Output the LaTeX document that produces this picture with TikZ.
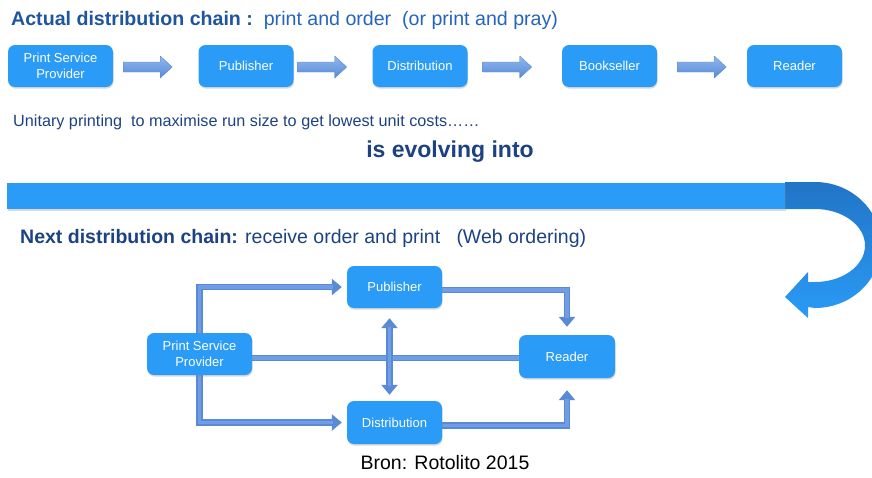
\documentclass[tikz,border=0pt]{standalone}
\usepackage{fontspec}
\setmainfont{Liberation Sans}
\usetikzlibrary{arrows.meta,shadows,calc}

\definecolor{boxblue}{RGB}{42,155,246}
\definecolor{headblue}{RGB}{30,84,160}
\definecolor{midblue}{RGB}{36,100,190}
\definecolor{navy}{RGB}{28,66,130}
\definecolor{pipeedge}{RGB}{90,138,214}
\definecolor{pipefill}{RGB}{112,158,230}
\definecolor{bandblue}{RGB}{42,155,246}
\definecolor{banddark}{RGB}{34,116,198}
\definecolor{arrowtop}{RGB}{146,184,238}
\definecolor{arrowbot}{RGB}{86,138,214}

\pgfdeclarelayer{pipes}
\pgfsetlayers{pipes,main}

% flat block arrow of the first chain: start point, total length
\newcommand\chainarrow[2]{%
  \shade[top color=arrowtop, bottom color=arrowbot, draw=arrowbot, line width=0.4pt]
    (#1) ++(0,5) -- ++({#2-12},0) -- ++(0,6) -- ++(12,-11) -- ++(-12,-11)
    -- ++(0,6) -- ++({-(#2-12)},0) -- cycle;}

\begin{document}
\begin{tikzpicture}[x=1pt,y=1pt,
  box/.style={fill=boxblue, rounded corners=7pt, text=white, align=center,
    font=\fontsize{13}{15.5}\selectfont, inner sep=2pt,
    drop shadow={opacity=0.3, shadow xshift=0.6pt, shadow yshift=-1.6pt}},
  pipe/.style={line width=6.5pt, draw=pipeedge},
  pipecore/.style={line width=3.5pt, draw=pipefill},
  tip/.tip={Triangle[width=16pt,length=10pt]},
]
\useasboundingbox (0,0) rectangle (872,-477);
\clip (0,0) rectangle (872,-477);

% ---- headings
\node[anchor=base west, inner sep=0, font=\fontsize{19.6}{22}\selectfont] (title1) at (11,-25)
  {\textcolor{headblue}{\bfseries Actual distribution chain :}\textcolor{midblue}{\ \ print and order\ \ (or print and pray)}};

% ---- first chain
\node[box, minimum width=105pt, minimum height=42pt] (psp1) at (60.5,-66) {Print Service\\Provider};
\node[box, minimum width=95pt, minimum height=42pt] (pub1) at (246,-66) {Publisher};
\node[box, minimum width=95pt, minimum height=42pt] (dist1) at (420,-66) {Distribution};
\node[box, minimum width=95pt, minimum height=42pt] (book1) at (609.5,-66) {Bookseller};
\node[box, minimum width=95pt, minimum height=42pt] (read1) at (794.5,-66) {Reader};

\chainarrow{$(psp1.east)+(10,-1)$}{49}
\chainarrow{$(pub1.east)+(4,-1)$}{49}
\chainarrow{$(dist1.east)+(15,-1)$}{49}
\chainarrow{$(book1.east)+(20,-1)$}{49}

\node[anchor=base west, inner sep=0, text=navy, font=\fontsize{16.2}{18}\selectfont] (unit) at (13,-126)
  {Unitary printing\ \ to maximise run size to get lowest unit costs\dots\dots};
\node[anchor=base, inner sep=0, text=navy, font=\fontsize{23}{26}\selectfont\bfseries] (evolve) at (450,-157)
  {is evolving into};

% ---- turning band
\shade[top color=banddark, bottom color=bandblue]
  (785,-182) -- (815,-182) arc[start angle=90, end angle=-90, x radius=66, y radius=63]
  -- (808,-307) -- (808,-318) -- (785,-297) -- (808,-272) -- (808,-282) -- (815,-282)
  arc[start angle=-90, end angle=90, x radius=50, y radius=36.5] -- (785,-209) -- cycle;
\fill[bandblue, drop shadow={opacity=0.3, shadow xshift=0.6pt, shadow yshift=-2pt}]
  (7,-183) rectangle (785,-209);

\node[anchor=base west, inner sep=0, text=navy, font=\fontsize{19.5}{22}\selectfont] (title2) at (20,-243)
  {\bfseries Next distribution chain:\mdseries{} receive order and print\ \ \ (Web ordering)};

% ---- second chain
\node[box, minimum width=105pt, minimum height=42pt] (psp2) at (199.5,-354) {Print Service\\Provider};
\node[box, minimum width=95pt, minimum height=42pt] (pub2) at (394.5,-287) {Publisher};
\node[box, minimum width=95pt, minimum height=43pt] (dist2) at (394.5,-422.5) {Distribution};
\node[box, minimum width=96pt, minimum height=43pt] (read2) at (567,-356.5) {Reader};

\begin{pgfonlayer}{pipes}
  % provider to publisher and distribution
  \draw[pipe, -tip, shorten >=5pt] (psp2.north) |- (pub2.west);
  \draw[pipecore, shorten >=14pt] (psp2.north) |- (pub2.west);
  \draw[pipe, -tip, shorten >=5pt] (psp2.south) |- (dist2.west);
  \draw[pipecore, shorten >=14pt] (psp2.south) |- (dist2.west);
  % provider straight to reader
  \draw[pipe] ([yshift=-4pt]psp2.east) -- ([yshift=-4pt]psp2.east -| read2.west);
  \draw[pipecore] ([yshift=-4pt]psp2.east) -- ([yshift=-4pt]psp2.east -| read2.west);
  % publisher <-> distribution
  \draw[pipe, tip-tip, shorten <=10pt, shorten >=6pt] ([xshift=-5pt]pub2.south) -- ([xshift=-5pt]dist2.north);
  \draw[pipecore, shorten <=19pt, shorten >=15pt] ([xshift=-5pt]pub2.south) -- ([xshift=-5pt]dist2.north);
  % publisher and distribution to reader
  \draw[pipe, -tip, shorten >=8pt] ([yshift=-3pt]pub2.east) -| (read2.north);
  \draw[pipecore, shorten >=17pt] ([yshift=-3pt]pub2.east) -| (read2.north);
  \draw[pipe, -tip, shorten >=12pt] ([yshift=-3pt]dist2.east) -| (read2.south);
  \draw[pipecore, shorten >=21pt] ([yshift=-3pt]dist2.east) -| (read2.south);
\end{pgfonlayer}

\node[anchor=base, inner sep=0, font=\fontsize{19.5}{22}\selectfont] (source) at (445,-469)
  {Bron: Rotolito 2015};
\end{tikzpicture}
\end{document}
